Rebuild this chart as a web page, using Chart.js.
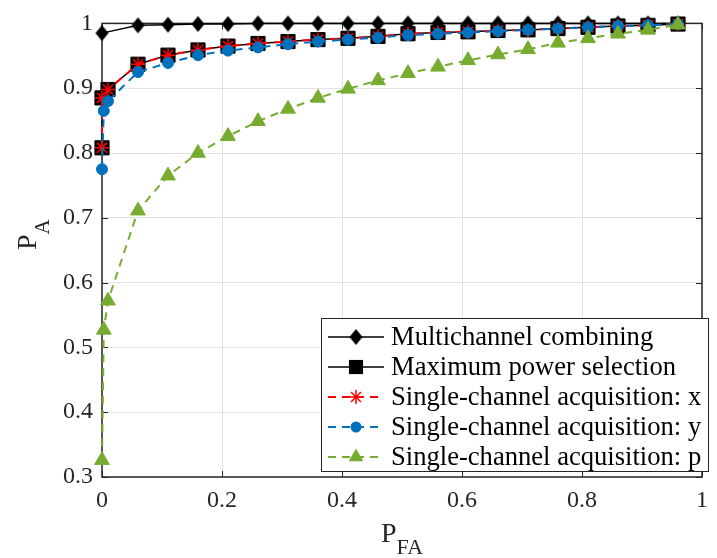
<!DOCTYPE html>
<html>
<head>
<meta charset="utf-8">
<script src="https://cdn.jsdelivr.net/npm/chart.js@4.4.1/dist/chart.umd.min.js"></script>
<style>
  html, body { margin: 0; padding: 0; background: #fff; }
  #rocChart { display: block; }
</style>
</head>
<body>
<canvas id="rocChart" width="717" height="558"></canvas>
<script>
// values
const xTickLabels = ['0', '0.2', '0.4', '0.6', '0.8', '1'];
const yTickLabels = ['0.3', '0.4', '0.5', '0.6', '0.7', '0.8', '0.9', '1'];

const pfaMulti = [0, 0.06, 0.11, 0.16, 0.21, 0.26, 0.31, 0.36, 0.41, 0.46, 0.51, 0.56, 0.61, 0.66, 0.71, 0.76, 0.81, 0.86, 0.91, 0.96];
const paMulti  = [0.985, 0.997, 0.998, 0.999, 0.999, 1, 1, 1, 1, 1, 1, 1, 1, 1, 1, 1, 1, 1, 1, 1];

const pfaMaxPow = [0, 0, 0.01, 0.06, 0.11, 0.16, 0.21, 0.26, 0.31, 0.36, 0.41, 0.46, 0.51, 0.56, 0.61, 0.66, 0.71, 0.76, 0.81, 0.86, 0.91, 0.96];
const paMaxPow  = [0.808, 0.885, 0.898, 0.937, 0.951, 0.959, 0.965, 0.969, 0.972, 0.975, 0.977, 0.980, 0.984, 0.986, 0.987, 0.989, 0.990, 0.992, 0.994, 0.996, 0.997, 0.999];

const pfaX = pfaMaxPow;
const paX  = paMaxPow;

const pfaY = [0, 0.003, 0.01, 0.06, 0.11, 0.16, 0.21, 0.26, 0.31, 0.36, 0.41, 0.46, 0.51, 0.56, 0.61, 0.66, 0.71, 0.76, 0.81, 0.86, 0.91, 0.96];
const paY  = [0.775, 0.865, 0.880, 0.925, 0.939, 0.951, 0.958, 0.963, 0.968, 0.972, 0.975, 0.978, 0.982, 0.984, 0.986, 0.988, 0.990, 0.992, 0.994, 0.996, 0.997, 0.999];

const pfaP = [0, 0.003, 0.01, 0.06, 0.11, 0.16, 0.21, 0.26, 0.31, 0.36, 0.41, 0.46, 0.51, 0.56, 0.61, 0.66, 0.71, 0.76, 0.81, 0.86, 0.91, 0.96];
const paP  = [0.326, 0.527, 0.572, 0.711, 0.765, 0.800, 0.826, 0.849, 0.868, 0.885, 0.899, 0.912, 0.923, 0.933, 0.943, 0.952, 0.960, 0.970, 0.977, 0.984, 0.990, 0.998];

const seriesNames = [
  'Multichannel combining',
  'Maximum power selection',
  'Single-channel acquisition: x',
  'Single-channel acquisition: y',
  'Single-channel acquisition: p'
];

const SERIF = "'Liberation Serif', 'Times New Roman', serif";

function toPoints(xs, ys) {
  return xs.map((x, i) => ({ x: x, y: ys[i] }));
}

// MATLAB style diamond (a bit taller than wide)
function diamond(w, h, color) {
  const c = document.createElement('canvas');
  c.width = w + 2; c.height = h + 2;
  const g = c.getContext('2d');
  g.fillStyle = color;
  g.beginPath();
  g.moveTo(c.width / 2, 1);
  g.lineTo(c.width - 1, c.height / 2);
  g.lineTo(c.width / 2, c.height - 1);
  g.lineTo(1, c.height / 2);
  g.closePath();
  g.fill();
  return c;
}

const diamondMark = diamond(13, 16, '#000');

function drawMarker(ctx, ds, x, y) {
  const st = ds.pointStyle, r = ds.pointRadius;
  ctx.save();
  ctx.setLineDash([]);
  ctx.fillStyle = ds.pointBackgroundColor;
  ctx.strokeStyle = ds.pointBorderColor;
  ctx.lineWidth = ds.pointBorderWidth;
  if (st instanceof HTMLCanvasElement) {
    ctx.drawImage(st, x - st.width / 2, y - st.height / 2);
  } else if (st === 'rect') {
    const s = r * Math.SQRT1_2;
    ctx.fillRect(x - s, y - s, 2 * s, 2 * s);
  } else if (st === 'circle') {
    ctx.beginPath(); ctx.arc(x, y, r, 0, Math.PI * 2); ctx.fill();
  } else if (st === 'triangle') {
    ctx.beginPath();
    for (let k = 0; k < 3; k++) {
      const a = k * 2 * Math.PI / 3;
      const px = x + Math.sin(a) * r, py = y - Math.cos(a) * r;
      if (k === 0) ctx.moveTo(px, py); else ctx.lineTo(px, py);
    }
    ctx.closePath(); ctx.fill();
  } else if (st === 'star') {
    ctx.beginPath();
    for (let k = 0; k < 4; k++) {
      const a = k * Math.PI / 4;
      ctx.moveTo(x - Math.cos(a) * r, y - Math.sin(a) * r);
      ctx.lineTo(x + Math.cos(a) * r, y + Math.sin(a) * r);
    }
    ctx.stroke();
  }
  ctx.restore();
}

const boxPlugin = {
  id: 'matlabBox',
  beforeDatasetsDraw(chart) {
    const { ctx, chartArea: a, scales } = chart;
    ctx.save();
    ctx.strokeStyle = '#262626';
    ctx.lineWidth = 1;
    const tl = 6;
    ctx.beginPath();
    scales.x.ticks.forEach(t => {
      const px = Math.round(scales.x.getPixelForValue(t.value)) + 0.5;
      ctx.moveTo(px, a.bottom); ctx.lineTo(px, a.bottom - tl);
      ctx.moveTo(px, a.top); ctx.lineTo(px, a.top + tl);
    });
    scales.y.ticks.forEach(t => {
      const py = Math.round(scales.y.getPixelForValue(t.value)) + 0.5;
      ctx.moveTo(a.left, py); ctx.lineTo(a.left + tl, py);
      ctx.moveTo(a.right, py); ctx.lineTo(a.right - tl, py);
    });
    ctx.stroke();
    ctx.lineWidth = 1.5;
    ctx.strokeRect(a.left, a.top, a.right - a.left, a.bottom - a.top);
    ctx.restore();
  }
};

const labelPlugin = {
  id: 'subscriptTitles',
  afterDraw(chart) {
    const { ctx, chartArea: a } = chart;
    ctx.save();
    ctx.fillStyle = '#262626';
    ctx.textBaseline = 'alphabetic';
    // x title: P_FA
    ctx.font = '28px ' + SERIF;
    const wP = ctx.measureText('P').width;
    ctx.font = '22px ' + SERIF;
    const wFA = ctx.measureText('FA').width;
    let x0 = (a.left + a.right) / 2 - (wP + wFA) / 2;
    ctx.font = '28px ' + SERIF;
    ctx.fillText('P', x0, 542);
    ctx.font = '22px ' + SERIF;
    ctx.fillText('FA', x0 + wP, 554);
    // y title: P_A (rotated)
    ctx.translate(36, 250);
    ctx.rotate(-Math.PI / 2);
    ctx.font = '28px ' + SERIF;
    ctx.fillText('P', 0, 0);
    ctx.font = '21px ' + SERIF;
    ctx.fillText('A', wP, 13);
    ctx.restore();
  }
};

const legendPlugin = {
  id: 'insideLegend',
  afterDatasetsDraw(chart) {
    const ctx = chart.ctx;
    const bx = 321.5, by = 318.5, bw = 387, bh = 153;
    ctx.save();
    ctx.fillStyle = '#fff';
    ctx.fillRect(bx, by, bw, bh);
    ctx.strokeStyle = '#262626';
    ctx.lineWidth = 1;
    ctx.strokeRect(bx, by, bw, bh);
    chart.data.datasets.forEach((ds, i) => {
      const cy = 337 + i * 30;
      ctx.save();
      ctx.strokeStyle = ds.borderColor;
      ctx.lineWidth = ds.borderWidth;
      ctx.setLineDash(ds.borderDash || []);
      ctx.beginPath();
      ctx.moveTo(328, cy); ctx.lineTo(384, cy);
      ctx.stroke();
      ctx.restore();
      drawMarker(ctx, ds, 356, cy);
      ctx.fillStyle = '#000';
      ctx.font = '26.6px ' + SERIF;
      ctx.textBaseline = 'middle';
      ctx.fillText(seriesNames[i], 391, cy + 1);
    });
    ctx.restore();
  }
};

const datasets = [
  {
    label: seriesNames[0], data: toPoints(pfaMulti, paMulti),
    borderColor: '#000', borderWidth: 1.5, borderDash: [],
    pointStyle: diamondMark, pointRadius: 8,
    pointBackgroundColor: '#000', pointBorderColor: '#000', pointBorderWidth: 1, order: 5
  },
  {
    label: seriesNames[1], data: toPoints(pfaMaxPow, paMaxPow),
    borderColor: '#000', borderWidth: 1.5, borderDash: [],
    pointStyle: 'rect', pointRadius: 10,
    pointBackgroundColor: '#000', pointBorderColor: '#000', pointBorderWidth: 1, order: 4
  },
  {
    label: seriesNames[2], data: toPoints(pfaX, paX),
    borderColor: '#ff0000', borderWidth: 2, borderDash: [8, 6],
    pointStyle: 'star', pointRadius: 7,
    pointBackgroundColor: '#ff0000', pointBorderColor: '#ff0000', pointBorderWidth: 1.5, order: 3
  },
  {
    label: seriesNames[3], data: toPoints(pfaY, paY),
    borderColor: '#0072bd', borderWidth: 2, borderDash: [8, 6],
    pointStyle: 'circle', pointRadius: 5.5,
    pointBackgroundColor: '#0072bd', pointBorderColor: '#0072bd', pointBorderWidth: 1, order: 2
  },
  {
    label: seriesNames[4], data: toPoints(pfaP, paP),
    borderColor: '#77ac30', borderWidth: 2, borderDash: [8, 6],
    pointStyle: 'triangle', pointRadius: 8.5,
    pointBackgroundColor: '#77ac30', pointBorderColor: '#77ac30', pointBorderWidth: 1, order: 1
  }
];
datasets.forEach(ds => { ds.tension = 0; ds.fill = false; ds.clip = false; ds.pointHoverRadius = ds.pointRadius; });

const ctx = document.getElementById('rocChart').getContext('2d');
const chart = new Chart(ctx, {
  type: 'line',
  data: { datasets: datasets },
  plugins: [boxPlugin, legendPlugin, labelPlugin],
  options: {
    responsive: false,
    animation: false,
    events: [],
    layout: { padding: { top: 22, right: 4, left: 0, bottom: 0 } },
    plugins: { legend: { display: false }, tooltip: { enabled: false } },
    scales: {
      x: {
        type: 'linear', min: 0, max: 1,
        afterFit: s => { s.height = 81; },
        afterBuildTicks: s => { s.ticks = xTickLabels.map(v => ({ value: parseFloat(v) })); },
        ticks: {
          padding: 9, color: '#262626', maxRotation: 0,
          font: { family: SERIF, size: 24 },
          callback: (v) => xTickLabels.find(l => Math.abs(parseFloat(l) - v) < 1e-9) || ''
        },
        grid: { color: '#e3e3e3', lineWidth: 1, drawTicks: false },
        border: { display: false }
      },
      y: {
        type: 'linear', min: 0.3, max: 1,
        afterFit: s => { s.width = 102; },
        afterBuildTicks: s => { s.ticks = yTickLabels.map(v => ({ value: parseFloat(v) })); },
        ticks: {
          padding: 9, color: '#262626',
          font: { family: SERIF, size: 24 },
          callback: (v) => yTickLabels.find(l => Math.abs(parseFloat(l) - v) < 1e-9) || ''
        },
        grid: { color: '#e3e3e3', lineWidth: 1, drawTicks: false },
        border: { display: false }
      }
    }
  }
});
</script>
</body>
</html>
